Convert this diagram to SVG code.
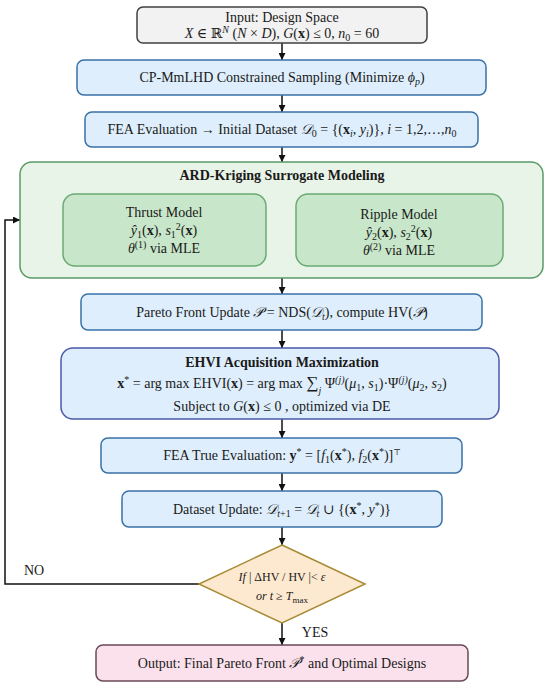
<svg xmlns="http://www.w3.org/2000/svg" width="550" height="688" viewBox="0 0 550 688">
<defs>
<marker id="ah" viewBox="0 0 10 10" refX="10" refY="5" markerWidth="7" markerHeight="7" markerUnits="userSpaceOnUse" orient="auto">
<path d="M0,0 L10,5 L0,10 z" fill="#111"/>
</marker>
<style>
text{font-family:"Liberation Serif","DejaVu Serif",serif;font-size:14px;fill:#1a1a1a;text-anchor:middle}
.i{font-style:italic}
.b{font-weight:bold}
.sm{font-size:10px}
.blue{fill:#deeefc;stroke:#3a72a8;stroke-width:1.5}
.conn{fill:none;stroke:#111;stroke-width:1.5}
</style>
</defs>
<rect width="550" height="688" fill="#fff"/>
<g id="connectors">
<line class="conn" x1="282" y1="43" x2="282" y2="60" marker-end="url(#ah)"/>
<line class="conn" x1="282" y1="95" x2="282" y2="112" marker-end="url(#ah)"/>
<line class="conn" x1="282" y1="147" x2="282" y2="162" marker-end="url(#ah)"/>
<line class="conn" x1="282" y1="278" x2="282" y2="294" marker-end="url(#ah)"/>
<line class="conn" x1="282" y1="330" x2="282" y2="348" marker-end="url(#ah)"/>
<line class="conn" x1="282" y1="419" x2="282" y2="438" marker-end="url(#ah)"/>
<line class="conn" x1="282" y1="473" x2="282" y2="491" marker-end="url(#ah)"/>
<line class="conn" x1="282" y1="527" x2="282" y2="545" marker-end="url(#ah)"/>
<line class="conn" x1="282" y1="623" x2="282" y2="645" marker-end="url(#ah)"/>
<polyline class="conn" points="199,584 5,584 5,220 20,220" marker-end="url(#ah)"/>
<text x="34" y="575">NO</text>
<text x="315" y="637">YES</text>
</g>
<g id="input">
<rect x="137" y="7" width="290" height="36" rx="6" fill="#f2f2f2" stroke="#404040" stroke-width="1.5"/>
<text x="282" y="22">Input: Design Space</text>
<text x="282" y="38"><tspan class="i">X</tspan> ∈ ℝ<tspan class="i sm" dy="-5">N</tspan><tspan dy="5"> (</tspan><tspan class="i">N</tspan> × <tspan class="i">D</tspan>), <tspan class="i">G</tspan>(<tspan class="b">x</tspan>) ≤ 0, <tspan class="i">n</tspan><tspan class="sm" dy="3">0</tspan><tspan dy="-3"> = 60</tspan></text>
</g>
<g id="sampling">
<rect class="blue" x="77" y="60" width="409" height="35" rx="7"/>
<text x="282" y="82">CP-MmLHD Constrained Sampling (Minimize <tspan class="i">ϕ</tspan><tspan class="i sm" dy="3">p</tspan><tspan dy="-3">)</tspan></text>
</g>
<g id="fea-init">
<rect class="blue" x="85" y="112" width="393" height="35" rx="7"/>
<text x="282" y="134">FEA Evaluation → Initial Dataset  <tspan class="i">𝒟</tspan><tspan class="sm" dy="3">0</tspan><tspan dy="-3"> = {(</tspan><tspan class="b">x</tspan><tspan class="i sm" dy="3">i</tspan><tspan dy="-3">, </tspan><tspan class="i">y</tspan><tspan class="i sm" dy="3">i</tspan><tspan dy="-3">)}, </tspan><tspan class="i">i</tspan> = 1,2,…,<tspan class="i">n</tspan><tspan class="sm" dy="3">0</tspan></text>
</g>
<g id="kriging">
<rect x="20" y="162" width="523" height="116" rx="12" fill="#e8f4e8" stroke="#5a9a64" stroke-width="1.5"/>
<text x="282" y="180" class="b">ARD-Kriging Surrogate Modeling</text>
</g>
<g id="thrust">
<rect x="63" y="194" width="203" height="72" rx="12" fill="#c8e6c9" stroke="#6aaa72" stroke-width="1.5"/>
<text x="164" y="217">Thrust Model</text>
<text x="164" y="235"><tspan class="i">ŷ</tspan><tspan class="sm" dy="3">1</tspan><tspan dy="-3">(</tspan><tspan class="b">x</tspan>), <tspan class="i">s</tspan><tspan class="sm" dy="3">1</tspan><tspan class="sm" dy="-8">2</tspan><tspan dy="5">(</tspan><tspan class="b">x</tspan>)</text>
<text x="164" y="253"><tspan class="i">θ</tspan><tspan class="sm" dy="-5">(1)</tspan><tspan dy="5"> via MLE</tspan></text>
</g>
<g id="ripple">
<rect x="296" y="194" width="207" height="72" rx="12" fill="#c8e6c9" stroke="#6aaa72" stroke-width="1.5"/>
<text x="399" y="219">Ripple Model</text>
<text x="399" y="237"><tspan class="i">ŷ</tspan><tspan class="sm" dy="3">2</tspan><tspan dy="-3">(</tspan><tspan class="b">x</tspan>), <tspan class="i">s</tspan><tspan class="sm" dy="3">2</tspan><tspan class="sm" dy="-8">2</tspan><tspan dy="5">(</tspan><tspan class="b">x</tspan>)</text>
<text x="399" y="255"><tspan class="i">θ</tspan><tspan class="sm" dy="-5">(2)</tspan><tspan dy="5">  via MLE</tspan></text>
</g>
<g id="pareto">
<rect class="blue" x="81" y="294" width="401" height="36" rx="7"/>
<text x="282" y="317">Pareto Front Update <tspan class="i">𝒫</tspan> = NDS(<tspan class="i">𝒟</tspan><tspan class="i sm" dy="3">t</tspan><tspan dy="-3">),  compute HV(</tspan><tspan class="i">𝒫</tspan>)</text>
</g>
<g id="ehvi">
<rect x="61" y="348" width="438" height="71" rx="12" fill="#deeefc" stroke="#4a5aa8" stroke-width="1.5"/>
<text x="282" y="367" class="b">EHVI Acquisition Maximization</text>
<text x="282" y="388"><tspan class="b">x</tspan><tspan class="sm" dy="-5">*</tspan><tspan dy="5"> = arg max EHVI(</tspan><tspan class="b">x</tspan>) = arg max <tspan style="font-size:17px">∑</tspan><tspan class="i sm" dy="6">j</tspan><tspan dy="-6"> Ψ</tspan><tspan class="i sm" dy="-5">(j)</tspan><tspan dy="5">(</tspan><tspan class="i">μ</tspan><tspan class="sm" dy="3">1</tspan><tspan dy="-3">, </tspan><tspan class="i">s</tspan><tspan class="sm" dy="3">1</tspan><tspan dy="-3">)·Ψ</tspan><tspan class="i sm" dy="-5">(j)</tspan><tspan dy="5">(</tspan><tspan class="i">μ</tspan><tspan class="sm" dy="3">2</tspan><tspan dy="-3">, </tspan><tspan class="i">s</tspan><tspan class="sm" dy="3">2</tspan><tspan dy="-3">)</tspan></text>
<text x="282" y="411">Subject to  <tspan class="i">G</tspan>(<tspan class="b">x</tspan>) ≤ 0 ,  optimized via DE</text>
</g>
<g id="fea-true">
<rect class="blue" x="101" y="438" width="361" height="35" rx="7"/>
<text x="282" y="460">FEA True Evaluation:  <tspan class="b">y</tspan><tspan class="sm" dy="-5">*</tspan><tspan dy="5"> = [</tspan><tspan class="i">f</tspan><tspan class="sm" dy="3">1</tspan><tspan dy="-3">(</tspan><tspan class="b">x</tspan><tspan class="sm" dy="-5">*</tspan><tspan dy="5">), </tspan><tspan class="i">f</tspan><tspan class="sm" dy="3">2</tspan><tspan dy="-3">(</tspan><tspan class="b">x</tspan><tspan class="sm" dy="-5">*</tspan><tspan dy="5">)]</tspan><tspan style="font-size:8px" dy="-5">⊤</tspan></text>
</g>
<g id="dataset">
<rect class="blue" x="122" y="491" width="320" height="36" rx="7"/>
<text x="282" y="514">Dataset Update:  <tspan class="i">𝒟</tspan><tspan class="i sm" dy="3">t</tspan><tspan class="sm">+1</tspan><tspan dy="-3"> = </tspan><tspan class="i">𝒟</tspan><tspan class="i sm" dy="3">t</tspan><tspan dy="-3"> ∪ {(</tspan><tspan class="b">x</tspan><tspan class="sm" dy="-5">*</tspan><tspan dy="5">, </tspan><tspan class="i">y</tspan><tspan class="sm" dy="-5">*</tspan><tspan dy="5">)}</tspan></text>
</g>
<g id="decision">
<polygon points="282,545 365,584 282,623 199,584" fill="#fde9cf" stroke="#a88a34" stroke-width="1.5"/>
<text x="282" y="581" style="font-size:12px"><tspan class="i">If</tspan>  | ΔHV / HV |&lt; <tspan class="i">ε</tspan></text>
<text x="282" y="600" style="font-size:12px"><tspan class="i">or  t</tspan> ≥ <tspan class="i">T</tspan><tspan style="font-size:9px" dy="3">max</tspan></text>
</g>
<g id="output">
<rect x="96" y="645" width="372" height="36" rx="7" fill="#fbe1ec" stroke="#6a4a58" stroke-width="1.5"/>
<text x="282" y="668">Output: Final Pareto Front  <tspan class="i">𝒫</tspan><tspan class="sm" dy="-5">*</tspan><tspan dy="5"> and Optimal Designs</tspan></text>
</g>
</svg>
